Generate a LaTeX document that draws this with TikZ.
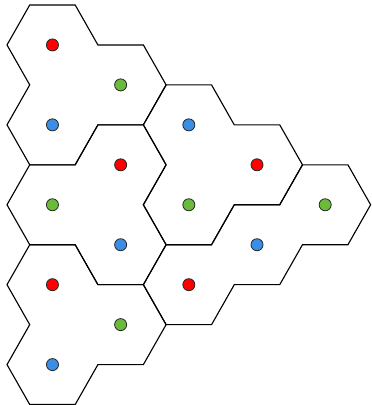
\documentclass[tikz,border=0pt]{standalone}
\usepackage{xcolor}
\usetikzlibrary{calc}
\definecolor{dotred}{RGB}{255,0,0}
\definecolor{dotgreen}{RGB}{106,187,58}
\definecolor{dotblue}{RGB}{58,142,230}
\begin{document}
\begin{tikzpicture}[x=1cm, y=1.015cm,
  tile/.style={line width=0.7pt, line join=miter},
  dot/.style={circle, draw=black!85, line width=0.5pt, inner sep=0pt, minimum size=0.265cm}]
\useasboundingbox (-1.154,-7.804) rectangle (7.01,0.974);
% cell centres, their six corners and the dots
\foreach \n/\c/\j/\col in {ar/0/0/dotred, ag/1/1/dotgreen, ab/0/2/dotblue,
    br/1/3/dotred, bg/0/4/dotgreen, bb/1/5/dotblue,
    cb/2/2/dotblue, cr/3/3/dotred, cg/2/4/dotgreen,
    dg/4/4/dotgreen, db/3/5/dotblue, dr/2/6/dotred,
    er/0/6/dotred, eg/1/7/dotgreen, eb/0/8/dotblue} {
  \coordinate (\n) at ({1.5*\c},{-sqrt(3)/2*\j});
  \foreach \k in {0,...,5} \coordinate (\n-\k) at ($(\n)+(60*\k:1)$);
  \node[dot, fill=\col] (\n-dot) at (\n) {};
}
% tile outlines
\draw[tile] (ar-2) -- (ar-1) -- (ar-0) -- (ag-1) -- (ag-0) -- (ag-5) -- (ag-4)
  -- (ab-5) -- (ab-4) -- (ab-3) -- (ab-2) -- (ar-3) -- cycle;
\draw[tile] (br-2) -- (br-1) -- (br-0) -- (br-5) -- (bb-0) -- (bb-5) -- (bb-4)
  -- (bb-3) -- (bg-4) -- (bg-3) -- (bg-2) -- (bg-1) -- cycle;
\draw[tile] (cb-2) -- (cb-1) -- (cb-0) -- (cr-1) -- (cr-0) -- (cr-5) -- (cr-4)
  -- (cg-5) -- (cg-4) -- (cg-3) -- (cg-2) -- (cb-3) -- cycle;
\draw[tile] (dr-2) -- (dr-1) -- (db-2) -- (db-1) -- (dg-2) -- (dg-1) -- (dg-0)
  -- (dg-5) -- (dg-4) -- (db-5) -- (db-4) -- (dr-5) -- (dr-4) -- (dr-3) -- cycle;
\draw[tile] (er-2) -- (er-1) -- (er-0) -- (eg-1) -- (eg-0) -- (eg-5) -- (eg-4)
  -- (eb-5) -- (eb-4) -- (eb-3) -- (eb-2) -- (er-3) -- cycle;
\end{tikzpicture}
\end{document}
